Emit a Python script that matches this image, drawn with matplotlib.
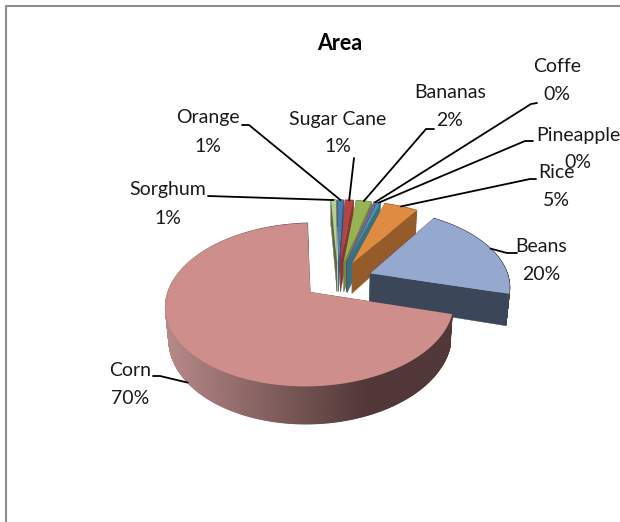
import numpy as np
import matplotlib
matplotlib.use('Agg')
import matplotlib.pyplot as plt
from matplotlib.patches import Polygon

plt.rcParams['font.family'] = ['Lato', 'Liberation Sans', 'DejaVu Sans']

# clockwise from the top of the pie, starting just after Corn
categories = ['Sorghum', 'Orange', 'Sugar Cane', 'Bananas', 'Coffe', 'Pineapple', 'Rice', 'Beans', 'Corn']
values = [0.7, 0.8, 1.1, 2.1, 0.4, 0.4, 4.6, 20.0, 69.9]
percent_labels = ['1%', '1%', '1%', '2%', '0%', '0%', '5%', '20%', '70%']
top_colors = ['#b9cf90', '#4979ad', '#b14542', '#95b355', '#7f63a1', '#4c95ab', '#df8b42', '#95a9cf', '#ce8e8c']
side_colors = ['#5a6b44', '#35587f', '#8a3533', '#6f8a3a', '#5c4775', '#35727f', '#955b2b', '#3b4658', '#6b4a49']

# label centre (px), leader start and the end of its short first stub
label_pos = [(168, 190), (208, 118), (338, 119), (450, 93), (557, 67), (578, 135), (556, 172), (541, 247), (130, 370)]
leader_start = [(208, 196), (242, 125), (354, 158), (434, 129), (537, 103), (533, 141), (536, 179), (517, 253), (153, 376)]
leader_stub = [(208, 196), (249, 125), (354, 158), (426, 129), (531, 104), (525, 141), (530, 179), (507, 253), (160, 376)]

START_ANGLE = 93.0
CX, CY = 338.0, 280.0
RX, KY = 139.0, 76.0
PERSP = 0.15
EXPLODE = 0.25
DEPTH = 31.0


def project(u, v, low=False):
    s = 1.0 / (1.0 + PERSP * v)
    if low:
        return CX + RX * u * s * 0.98, CY - KY * v * s + DEPTH * s
    return CX + RX * u * s, CY - KY * v * s


def corn_shade(x):
    # the corn wall gets darker from left to right, then stays flat
    t = np.clip((x - 168.0) / (365.0 - 168.0), 0, 1)
    light = np.array([0xb5, 0x88, 0x86]) / 255
    dark = np.array([0x52, 0x38, 0x38]) / 255
    return tuple(light + (dark - light) * t)


fig = plt.figure(figsize=(6.2, 5.22), dpi=100)
ax = fig.add_axes([0, 0, 1, 1])
ax.set_xlim(0, 620)
ax.set_ylim(522, 0)
ax.axis('off')

# chart frame
ax.plot([5.5, 5.5, 620], [522, 5.5, 5.5], color='#8c8c8c', lw=1.5, zorder=1)

total = sum(values)
angle = START_ANGLE
anchors = []
for i, val in enumerate(values):
    sweep = val / total * 360.0
    th = np.radians(np.linspace(angle, angle - sweep, max(int(sweep) * 2, 3) + 1))
    mid = np.radians(angle - sweep / 2)
    ou, ov = EXPLODE * np.cos(mid), EXPLODE * np.sin(mid)
    rim_u, rim_v = ou + np.cos(th), ov + np.sin(th)
    z = 3 + i * 3

    # radial walls
    for k in (0, -1):
        a = project(ou, ov)
        b = project(rim_u[k], rim_v[k])
        c = project(rim_u[k], rim_v[k], low=True)
        d = project(ou, ov, low=True)
        ax.add_patch(Polygon([a, b, c, d], closed=True, fc=side_colors[i], ec=side_colors[i], lw=0.3, zorder=z))

    # outer wall, one quad per step so the corn can be shaded
    for j in range(len(th) - 1):
        p = [project(rim_u[j], rim_v[j]), project(rim_u[j + 1], rim_v[j + 1]),
             project(rim_u[j + 1], rim_v[j + 1], low=True), project(rim_u[j], rim_v[j], low=True)]
        col = side_colors[i]
        if categories[i] == 'Corn':
            col = corn_shade(p[0][0])
        ax.add_patch(Polygon(p, closed=True, fc=col, ec=col, lw=0.8, zorder=z + 1))

    # top face
    pts = [project(ou, ov)] + [project(u, v) for u, v in zip(rim_u, rim_v)]
    ax.add_patch(Polygon(pts, closed=True, fc=top_colors[i], ec='none', zorder=z + 2))

    # corn's leader lands on the wall, the others on the top rim
    anchors.append(project(ou + np.cos(mid), ov + np.sin(mid), low=categories[i] == 'Corn'))
    angle -= sweep

# leader lines go from the label to the rim of each slice
for i, name in enumerate(categories):
    x0, y0 = leader_start[i]
    xs, ys = leader_stub[i]
    x1, y1 = anchors[i]
    ax.plot([x0, xs, x1], [y0, ys, y1], color='black', lw=1.3, zorder=40, solid_capstyle='round')
    lx, ly = label_pos[i]
    ax.text(lx, ly, name, ha='center', va='center', fontsize=14, color='#1a1a1a', zorder=50)
    ax.text(lx, ly + 28, percent_labels[i], ha='center', va='center', fontsize=14, color='#1a1a1a', zorder=50)

ax.text(340, 43, 'Area', ha='center', va='center', fontsize=15.5, fontweight='bold', color='black', zorder=50)

fig.savefig('out.png', dpi=100)
